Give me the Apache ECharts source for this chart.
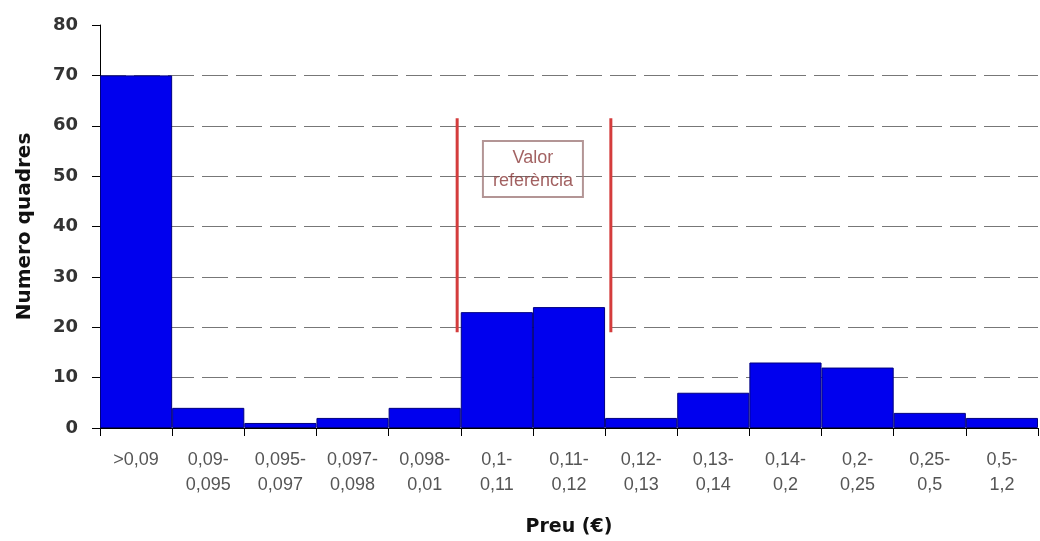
<!DOCTYPE html>
<html>
<head>
<meta charset="utf-8">
<title>Preu</title>
<script src="https://cdn.jsdelivr.net/npm/echarts@6/dist/echarts.min.js"></script>
<style>
  html, body { margin: 0; padding: 0; background: #ffffff; }
  #chart { width: 1040px; height: 541px; }
</style>
</head>
<body>
<div id="chart"></div>
<script>
// Price ranges (€) and number of frames in each range
const categories = [
  '>0,09', '0,09-\n0,095', '0,095-\n0,097', '0,097-\n0,098', '0,098-\n0,01',
  '0,1-\n0,11', '0,11-\n0,12', '0,12-\n0,13', '0,13-\n0,14', '0,14-\n0,2',
  '0,2-\n0,25', '0,25-\n0,5', '0,5-\n1,2'
];
const counts = [70, 4, 1, 2, 4, 23, 24, 2, 7, 13, 12, 3, 2];

// Reference band: edges in category units, vertical extent in frames
const refEdges = [4.95, 7.08];
const refSpan = [19, 61.5];
const refLabelPos = [6.0, 51.4];
const refLabel = 'Valor\nreferència';

const yTicks = { min: 0, max: 80, interval: 10 };

const chart = echarts.init(document.getElementById('chart'), null, { renderer: 'canvas' });

const refLineSeries = refEdges.map(x => ({
  type: 'line',
  xAxisIndex: 1,
  data: [[x, refSpan[0]], [x, refSpan[1]]],
  symbol: 'none',
  lineStyle: { color: '#d43c3c', width: 3 },
  z: 5,
  silent: true
}));

chart.setOption({
  animation: false,
  backgroundColor: '#ffffff',
  grid: { left: 100, right: 2, top: 25, bottom: 113, containLabel: false, outerBoundsMode: 'none' },
  xAxis: [
    {
      type: 'category',
      data: categories,
      boundaryGap: true,
      name: 'Preu (€)',
      nameLocation: 'middle',
      nameGap: 90,
      nameTextStyle: { fontFamily: 'DejaVu Sans', fontWeight: 'bold', fontSize: 19, color: '#111' },
      axisLine: { show: true, lineStyle: { color: '#000', width: 1 } },
      axisTick: { show: true, inside: false, length: 8, alignWithLabel: false, lineStyle: { color: '#000' } },
      axisLabel: {
        interval: 0,
        margin: 20,
        fontFamily: 'Liberation Sans',
        fontSize: 18,
        lineHeight: 25,
        color: '#555'
      },
      splitLine: { show: false }
    },
    {
      type: 'value',
      min: 0,
      max: categories.length,
      show: false
    }
  ],
  yAxis: {
    type: 'value',
    min: yTicks.min,
    max: yTicks.max,
    interval: yTicks.interval,
    name: 'Numero quadres',
    nameLocation: 'middle',
    nameGap: 65,
    nameTextStyle: { fontFamily: 'DejaVu Sans', fontWeight: 'bold', fontSize: 20, color: '#111' },
    axisLine: { show: true, lineStyle: { color: '#000', width: 1 } },
    axisTick: { show: true, inside: false, length: 8, lineStyle: { color: '#000' } },
    axisLabel: {
      margin: 22,
      fontFamily: 'DejaVu Sans',
      fontWeight: 'bold',
      fontSize: 18,
      color: '#333'
    },
    splitLine: {
      show: true,
      showMinLine: false,
      showMaxLine: false,
      lineStyle: { color: '#777', width: 1, type: [26, 8] }
    }
  },
  series: [
    {
      type: 'bar',
      data: counts,
      barCategoryGap: '0%',
      itemStyle: { color: '#0000ee', borderColor: '#000080', borderWidth: 1 },
      z: 2
    },
    ...refLineSeries,
    {
      type: 'scatter',
      xAxisIndex: 1,
      data: [refLabelPos],
      symbolSize: 1,
      itemStyle: { color: 'rgba(0,0,0,0)' },
      z: 6,
      silent: true,
      label: {
        show: true,
        position: 'inside',
        formatter: refLabel,
        fontFamily: 'Liberation Sans',
        fontSize: 18,
        lineHeight: 23,
        color: '#8b3a3a',
        align: 'center',
        verticalAlign: 'middle',
        width: 100,
        padding: [5, 0, 5, 0],
        borderColor: '#a07a7a',
        borderWidth: 1,
        backgroundColor: 'rgba(255,255,255,0)'
      }
    }
  ]
});
</script>
</body>
</html>
